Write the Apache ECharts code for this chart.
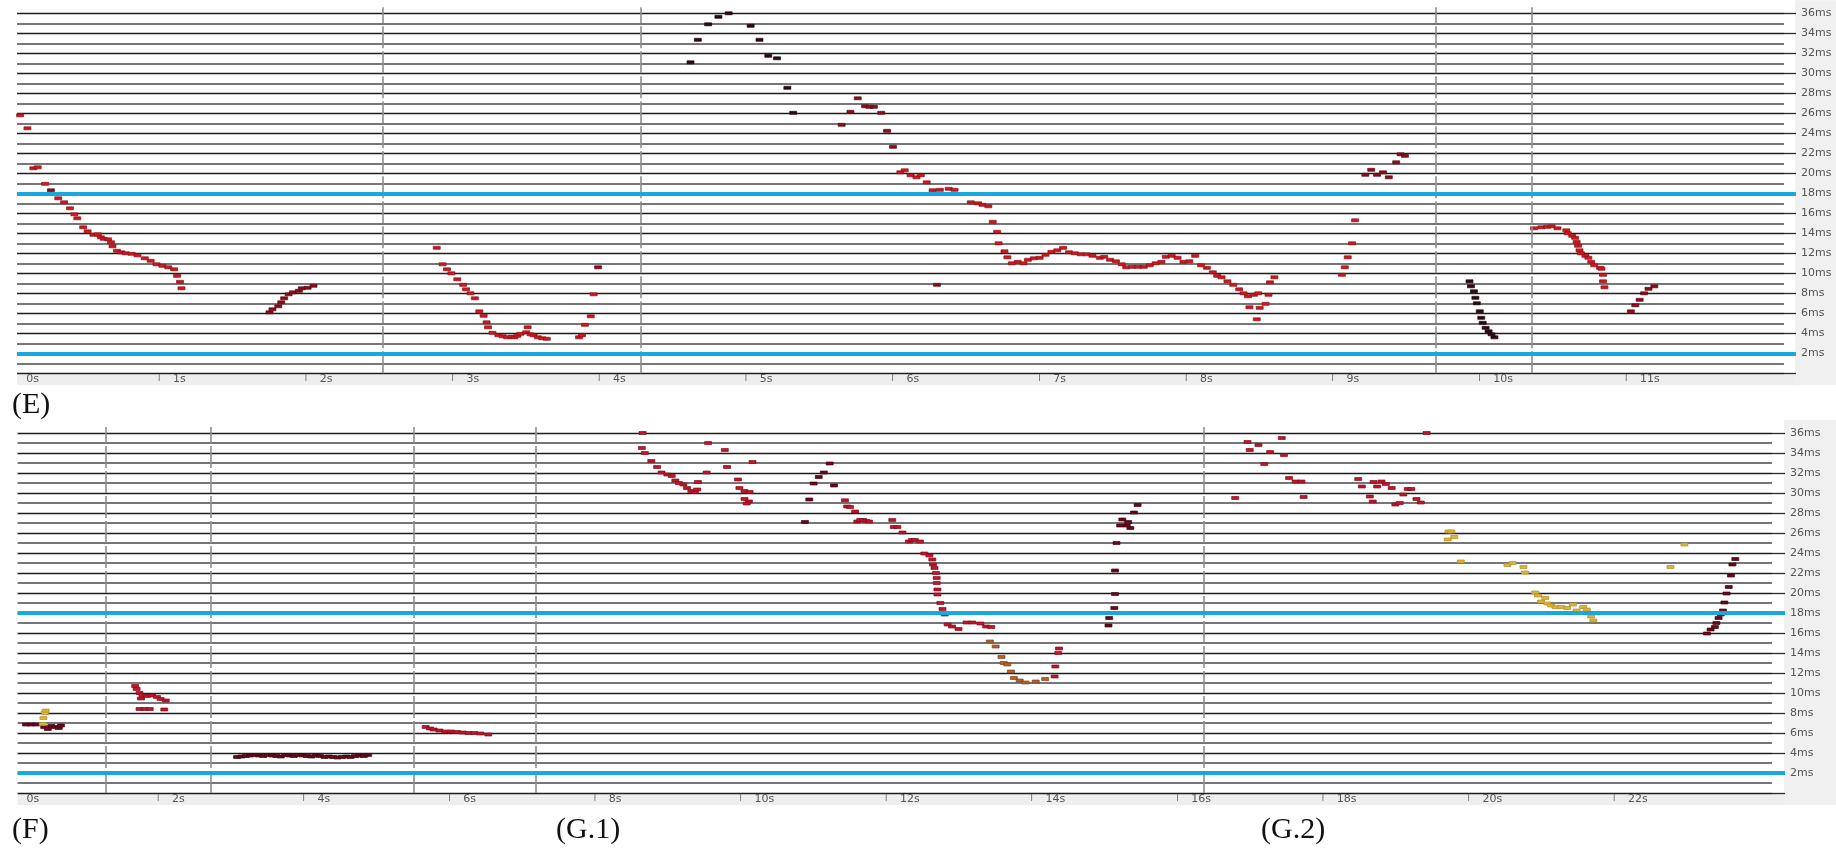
<!DOCTYPE html>
<html>
<head>
<meta charset="utf-8">
<title>Pitch period tracks</title>
<script src="https://cdn.jsdelivr.net/npm/echarts@6/dist/echarts.min.js"></script>
<style>
  html, body { margin: 0; padding: 0; background: #ffffff; }
  #chart { width: 1836px; height: 850px; }
</style>
</head>
<body>
<div id="chart"></div>
<script>
// ---- period axis (ms) ----
const periodMin = 0;
const periodMax = 36;
const periodStep = 2;
const refLines = [2, 18];

// ---- panel E: time ticks (s), separators (s) ----
const eTicks = [0, 12];
const eSeparators = [2.53, 4.29, 9.71, 10.365];

// ---- panel F/G: time ticks (s), separators (s) ----
const gTicks = [0, 24];
const gSeparators = [1.30, 2.74, 5.52, 7.20, 16.38];

// ---- panel E tracks: [time s, period ms] ----
const eRed = [
  [0.06,25.8],[0.11,24.5],[0.15,20.5],[0.18,20.6],[0.23,18.95],[0.32,17.5],[0.36,17.1],[0.40,16.5],
  [0.43,15.9],[0.45,15.5],[0.49,14.6],[0.52,14.2],[0.56,13.85],[0.59,13.9],[0.61,13.6],[0.63,13.45],
  [0.66,13.4],[0.68,13.1],[0.69,12.7],[0.72,12.25],[0.75,12.1],[0.78,12.0],[0.82,11.95],[0.86,11.8],
  [0.91,11.5],[0.95,11.25],[0.99,10.9],[1.03,10.75],[1.07,10.6],[1.11,10.4],[1.13,9.75],[1.15,9.15],[1.16,8.5],
  [2.90,12.55],[2.94,10.9],[2.97,10.4],[3.00,10.0],[3.04,9.4],[3.08,8.85],[3.10,8.4],[3.13,8.0],[3.16,7.5],
  [3.19,6.2],[3.22,5.75],[3.24,5.1],[3.25,4.6],[3.28,4.05],[3.32,3.8],[3.35,3.7],[3.38,3.6],[3.41,3.65],
  [3.43,3.6],[3.45,3.75],[3.47,3.95],[3.51,4.1],[3.52,4.6],[3.54,3.9],[3.56,3.8],[3.59,3.6],[3.62,3.5],
  [3.65,3.45],[3.87,3.6],[3.89,3.8],[3.91,4.85],[3.95,5.7],[3.97,7.9],
  [6.06,20.1],[6.09,20.3],[6.13,19.8],[6.17,19.6],[6.20,19.8],[6.24,19.1],[6.28,18.3],[6.33,18.35],
  [6.39,18.45],[6.43,18.35],[6.54,17.1],[6.59,17.0],[6.62,16.85],[6.66,16.7],[6.69,15.15],[6.72,14.15],
  [6.73,13.0],[6.77,12.2],[6.79,11.6],[6.82,11.0],[6.86,11.15],[6.90,11.0],[6.93,11.35],[6.97,11.5],
  [7.01,11.55],[7.05,11.85],[7.09,12.15],[7.13,12.3],[7.17,12.55],[7.21,12.1],[7.25,12.0],[7.29,11.9],
  [7.33,11.9],[7.37,11.75],[7.42,11.55],[7.45,11.65],[7.49,11.35],[7.53,11.2],[7.57,10.9],[7.60,10.6],
  [7.64,10.65],[7.68,10.65],[7.72,10.65],[7.76,10.8],[7.80,11.0],[7.84,11.15],[7.87,11.65],[7.91,11.75],
  [7.95,11.55],[7.99,11.15],[8.03,11.2],[8.07,11.75],[8.11,10.8],[8.15,10.55],[8.19,10.1],[8.22,9.75],
  [8.25,9.6],[8.29,9.2],[8.33,8.85],[8.37,8.4],[8.40,8.0],[8.43,7.7],[8.47,7.85],[8.50,8.0],[8.44,6.6],
  [8.51,6.55],[8.55,6.95],[8.57,7.85],[8.49,5.4],[8.58,9.1],[8.61,9.6],
  [9.07,9.85],[9.09,10.6],[9.11,11.6],[9.14,13.0],[9.16,15.3],
  [10.38,14.5],[10.43,14.6],[10.47,14.65],[10.50,14.7],[10.54,14.5],[10.60,14.3],[10.61,14.0],[10.64,13.75],
  [10.66,13.55],[10.67,13.15],[10.68,12.75],[10.69,12.3],[10.70,12.0],[10.73,11.75],[10.75,11.55],
  [10.77,11.15],[10.79,10.8],[10.83,10.55],[10.84,10.45],[10.85,9.85],[10.85,9.2],[10.86,8.6]
];
const eDarkRed = [
  [0.27,18.3],
  [1.76,6.1],[1.78,6.4],[1.82,6.7],[1.84,7.1],[1.86,7.5],[1.89,7.9],[1.92,8.1],[1.96,8.25],[1.98,8.5],
  [2.02,8.55],[2.06,8.75],[4.00,10.6],
  [5.66,24.85],[5.72,26.15],[5.77,27.5],[5.82,26.7],[5.85,26.65],[5.88,26.65],[5.93,26.05],[5.97,24.25],
  [6.01,22.65],[6.31,8.85],
  [9.23,19.85],[9.27,20.35],[9.31,19.85],[9.35,20.1],[9.39,19.6],[9.44,21.1],[9.47,21.9],[9.50,21.75],
  [11.04,6.2],[11.07,6.8],[11.10,7.35],[11.13,8.0],[11.16,8.45],[11.20,8.7]
];
const eBlack = [
  [4.63,31.1],[4.68,33.35],[4.75,34.9],[4.82,35.65],[4.89,36.0],[5.04,34.75],[5.10,33.35],[5.16,31.75],
  [5.22,31.5],[5.29,28.55],[5.33,26.05],
  [9.94,9.2],[9.95,8.7],[9.97,8.2],[9.98,7.55],[9.99,7.0],[10.01,6.2],[10.02,5.55],[10.03,5.05],
  [10.05,4.55],[10.07,4.2],[10.09,3.9],[10.11,3.6]
];

// ---- panels F, G.1, G.2 tracks: [time s, period ms] ----
const gRed = [
  [1.70,10.7],[1.72,10.4],[1.76,10.0],[1.80,9.8],[1.86,9.7],[1.93,9.75],[2.00,9.6],[2.05,9.4],[2.12,9.25],
  [1.78,9.45],[1.76,8.4],[1.83,8.4],[1.90,8.4],[2.10,8.35],
  [5.69,6.6],[5.75,6.45],[5.80,6.35],[5.88,6.25],[5.96,6.15],[6.04,6.15],[6.12,6.1],[6.20,6.05],
  [6.28,6.0],[6.36,6.0],[6.44,5.95],[6.55,5.85],
  [8.67,36.0],[8.66,34.5],[8.70,34.0],[8.79,33.2],[8.87,32.6],[8.93,32.05],[9.01,31.85],[9.07,31.7],
  [9.12,31.25],[9.17,31.0],[9.23,30.85],[9.28,30.5],[9.34,30.2],[9.39,30.1],[9.42,30.35],[9.43,31.1],
  [9.55,32.05],[9.57,35.0],[9.80,34.3],[9.83,32.6],[9.98,31.35],[10.00,30.5],[10.07,30.2],[10.14,30.1],
  [10.07,29.4],[10.13,29.15],[10.10,28.95],[10.18,33.1],
  [11.45,29.27],[11.48,28.65],[11.52,28.6],[11.59,28.15],[11.62,27.15],[11.66,27.3],[11.70,27.3],
  [11.74,27.2],[11.78,27.15],[12.10,27.3],[12.12,26.6],[12.17,26.6],[12.24,26.05],[12.33,25.15],
  [12.37,25.3],[12.41,25.3],[12.48,25.15],[12.54,23.95],[12.61,23.75],[12.65,23.35],[12.66,22.85],
  [12.68,22.5],[12.70,22.0],[12.71,21.5],[12.71,21.0],[12.72,20.35],[12.72,19.85],[12.76,19.0],
  [12.79,18.4],[12.82,17.85],[12.86,16.85],[12.92,16.65],[13.01,16.4],[13.12,17.05],[13.20,17.05],
  [13.31,16.95],[13.39,16.65],[13.46,16.6],
  [14.33,11.65],[14.34,12.65],[14.38,14.0],[14.39,14.45],
  [16.81,29.5],[16.98,35.1],[17.01,34.3],[17.13,34.8],[17.21,32.9],[17.29,34.1],[17.45,35.5],[17.48,33.8],
  [17.55,31.5],[17.64,31.15],[17.72,31.15],[17.75,29.6],[18.50,31.4],[18.55,30.65],[18.66,29.65],
  [18.70,29.15],[18.71,31.1],[18.76,30.65],[18.82,31.15],[18.88,30.9],[18.96,30.5],[19.01,28.85],
  [19.07,29.0],[19.12,29.85],[19.18,30.4],[19.23,30.4],[19.30,29.4],[19.36,29.05],[19.44,36.0]
];
const gDark = [
  [0.20,6.85],[0.27,6.85],[0.34,6.85],[0.45,6.6],[0.50,6.4],[0.55,6.7],[0.60,6.6],[0.65,6.5],[0.68,6.75],
  [3.10,3.6],[3.16,3.65],[3.22,3.7],[3.28,3.75],[3.34,3.8],[3.40,3.75],[3.46,3.7],[3.52,3.8],[3.58,3.75],
  [3.64,3.7],[3.70,3.65],[3.76,3.8],[3.82,3.75],[3.88,3.7],[3.94,3.8],[4.00,3.75],[4.06,3.7],[4.12,3.65],
  [4.18,3.75],[4.24,3.7],[4.30,3.6],[4.36,3.65],[4.42,3.6],[4.48,3.55],[4.54,3.6],[4.60,3.65],[4.66,3.6],
  [4.72,3.7],[4.78,3.75],[4.84,3.7],[4.90,3.8],
  [10.90,27.1],[10.96,29.35],[11.02,30.95],[11.09,31.6],[11.16,32.05],[11.24,32.95],[11.30,30.75],
  [15.07,16.75],[15.08,17.5],[15.15,18.5],[15.16,19.9],[15.16,22.25],[15.18,25.0],[15.23,26.75],
  [15.32,26.75],[15.37,26.5],[15.26,27.35],[15.34,27.1],[15.42,28.05],[15.47,28.8],
  [23.29,15.95],[23.34,16.35],[23.40,16.6],[23.42,17.0],[23.45,17.5],[23.48,17.85],[23.51,18.25],
  [23.53,19.05],[23.56,19.95],[23.59,20.6],[23.62,21.75],[23.64,22.85],[23.68,23.4]
];
const gBrown = [
  [13.44,15.15],[13.52,14.65],[13.60,13.6],[13.63,13.0],[13.68,12.85],[13.73,12.15],[13.77,11.5],
  [13.85,11.25],[13.93,11.05],[14.07,11.15],[14.20,11.4]
];
const gYellow = [
  [0.43,6.9],[0.44,7.5],[0.46,8.0],[0.47,8.25],
  [19.74,26.15],[19.78,26.15],[19.73,25.35],[19.82,25.6],[19.91,23.15],[20.55,22.8],[20.62,23.0],
  [20.77,22.6],[20.79,22.05],[20.93,20.05],[20.97,19.75],[21.07,19.5],[21.01,19.15],[21.10,18.95],
  [21.15,18.75],[21.21,18.6],[21.29,18.6],[21.37,18.5],[21.45,18.85],[21.50,18.25],[21.59,18.6],
  [21.64,18.35],[21.70,17.65],[21.73,17.25],[22.79,22.6],[22.98,24.85]
];

// ---- layout (px) ----
const panels = [
  { top: 13.3, plotLeft: 17, plotRight: 1784, tickLen: 12, origin: 11.3, pxPerSec: 146.7,
    ticks: eTicks, step: 1, separators: eSeparators, letters: [{ text: '(E)', x: 12 }] },
  { top: 433, plotLeft: 17.6, plotRight: 1772, tickLen: 13, origin: 11.4, pxPerSec: 72.8,
    ticks: gTicks, step: 2, separators: gSeparators,
    letters: [{ text: '(F)', x: 12 }, { text: '(G.1)', x: 556 }, { text: '(G.2)', x: 1261 }] }
];
const plotHeight = 360;
const pxPerMs = plotHeight / (periodMax - periodMin);
const sepOverhang = 0.6;   // separators rise slightly above the top line (ms)

const labelFont = 'DejaVu Sans, Verdana, sans-serif';
const grids = [], xAxes = [], yAxes = [], series = [], graphics = [];

panels.forEach((p, i) => {
  const tMin = (p.plotLeft - p.origin) / p.pxPerSec;
  const tMax = (p.plotRight - p.origin) / p.pxPerSec;
  const tRef = (p.plotRight + p.tickLen - p.origin) / p.pxPerSec;
  const gPlot = i * 3, gTime = i * 3 + 1, gMark = i * 3 + 2;

  // plot grid (period lines + tracks)
  grids.push({ left: p.plotLeft, top: p.top, width: p.plotRight - p.plotLeft, height: plotHeight });
  // time label grid, anchored on t = 0
  grids.push({ left: p.origin, top: p.top, width: p.pxPerSec * p.ticks[1], height: plotHeight });
  // marker grid: same scales, reaching the tick ends and a little above the top line
  grids.push({ left: p.plotLeft, top: p.top - sepOverhang * pxPerMs,
    width: p.plotRight + p.tickLen - p.plotLeft, height: plotHeight + sepOverhang * pxPerMs });

  xAxes.push({ gridIndex: gPlot, type: 'value', min: tMin, max: tMax, show: false });
  xAxes.push({
    gridIndex: gTime, type: 'value', min: p.ticks[0], max: p.ticks[1], interval: p.step,
    axisLine: { show: false }, axisTick: { show: false }, splitLine: { show: false },
    axisLabel: {
      margin: 6, align: 'left', verticalAlign: 'middle', color: '#555',
      fontFamily: labelFont, fontSize: 11,
      formatter: v => v === 0 ? '{z|0s}' : (v >= p.ticks[1] ? '' : '{t|I}' + v + 's'),
      rich: {
        z: { padding: [0, 0, 0, 15], color: '#555', fontFamily: labelFont, fontSize: 11 },
        t: { width: 15, color: '#666', fontFamily: labelFont, fontSize: 8 }
      }
    }
  });
  xAxes.push({ gridIndex: gMark, type: 'value', min: tMin, max: tRef, show: false });

  yAxes.push({
    gridIndex: gPlot, type: 'value', position: 'right',
    min: periodMin, max: periodMax, interval: periodStep,
    axisLine: { show: false },
    axisTick: { show: true, length: p.tickLen, lineStyle: { color: '#2a2a2a', width: 1.3 } },
    minorTick: { show: false, splitNumber: 2 },
    splitLine: { show: true, lineStyle: { color: '#1e1e1e', width: 1.3 } },
    minorSplitLine: { show: true, lineStyle: { color: '#4a4a4a', width: 1.5 } },
    axisLabel: {
      margin: p.tickLen + 5, color: '#555', fontFamily: labelFont, fontSize: 11,
      formatter: v => v === 0 ? '' : v + 'ms'
    }
  });
  yAxes.push({ gridIndex: gTime, type: 'value', min: periodMin, max: periodMax, show: false });
  yAxes.push({ gridIndex: gMark, type: 'value', min: periodMin, max: periodMax + sepOverhang, show: false });

  // separators and reference period lines
  series.push({
    type: 'scatter', xAxisIndex: gMark, yAxisIndex: gMark, data: [], silent: true, z: 2,
    markLine: {
      silent: true, symbol: ['none', 'none'], label: { show: false }, animation: false,
      lineStyle: { color: '#8e8e8e', width: 1.6, type: [22, 3] },
      data: p.separators.map(t => [{ coord: [t, periodMin] }, { coord: [t, periodMax + sepOverhang] }])
    }
  });
  series.push({
    type: 'scatter', xAxisIndex: gMark, yAxisIndex: gMark, data: [], silent: true, z: 3,
    markLine: {
      silent: true, symbol: ['none', 'none'], label: { show: false }, animation: false,
      lineStyle: { color: '#17a8de', width: 4.2, type: 'solid' },
      data: refLines.map(v => [{ coord: [tMin, v] }, { coord: [tRef, v] }])
    }
  });

  // label strips
  const base = p.top + plotHeight;
  graphics.push({ type: 'rect', z: -1, shape: { x: p.plotLeft, y: base + 1, width: p.plotRight - p.plotLeft + 12, height: 11 },
    style: { fill: '#eeeeee' } });
  graphics.push({ type: 'rect', z: -1, shape: { x: p.plotRight + p.tickLen - 1, y: p.top - 13, width: 1836 - p.plotRight, height: plotHeight + 25 },
    style: { fill: '#f0f0f0' } });
  p.letters.forEach(l => graphics.push({
    type: 'text', left: l.x, top: base + (i === 0 ? 17 : 22), z: 10,
    style: { text: l.text, fill: '#111', font: '30px "Liberation Serif", "Times New Roman", serif' }
  }));
});

function track(data, xi, color, border) {
  return {
    type: 'scatter', xAxisIndex: xi, yAxisIndex: xi, data: data, z: 4,
    symbol: 'rect', symbolSize: [7, 3], silent: true,
    itemStyle: { color: color, borderColor: border, borderWidth: 0.6, opacity: 1 }
  };
}
series.push(track(eRed, 0, '#cc1a1f', '#8a0c14'));
series.push(track(eDarkRed, 0, '#8c0e1c', '#5a0610'));
series.push(track(eBlack, 0, '#2e0a12', '#1a0408'));
series.push(track(gRed, 3, '#c0162a', '#7e0a18'));
series.push(track(gDark, 3, '#6a0818', '#3a0410'));
series.push(track(gBrown, 3, '#b0642e', '#7a3a18'));
series.push(track(gYellow, 3, '#dcb43c', '#b08a20'));

const chart = echarts.init(document.getElementById('chart'), null, { renderer: 'canvas' });
chart.setOption({
  backgroundColor: '#ffffff',
  animation: false,
  grid: grids,
  xAxis: xAxes,
  yAxis: yAxes,
  series: series,
  graphic: graphics
});
</script>
</body>
</html>
